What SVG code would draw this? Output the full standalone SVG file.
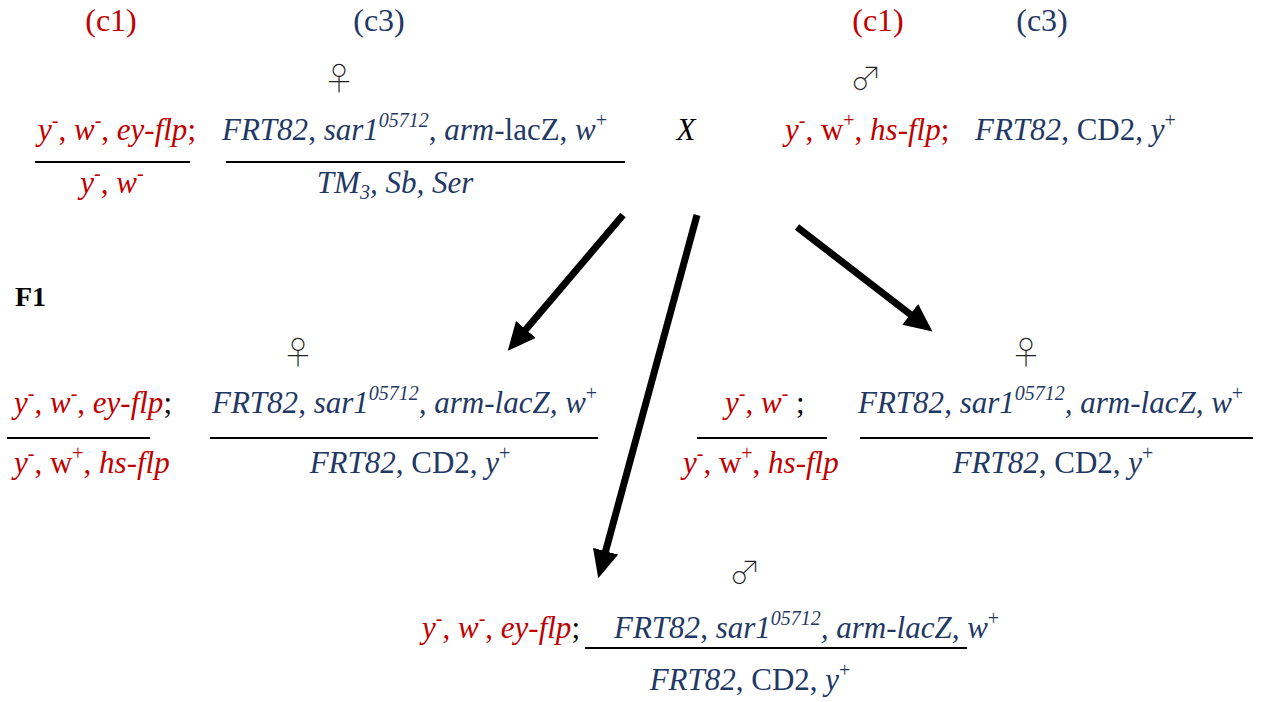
<svg xmlns="http://www.w3.org/2000/svg" width="1268" height="702" viewBox="0 0 1268 702">
<defs>
<style>
text{font-family:"Liberation Serif","Times New Roman",serif;font-size:31px}
.r{fill:#C00000}
.b{fill:#1F3864}
.k{fill:#000}
.i{font-style:italic}
.sup{font-size:20px}
.hd{font-size:32px}
.f1{font-size:28px;font-weight:bold;fill:#000}
text.sym{font-family:"Noto Sans CJK JP",sans-serif;font-weight:100;font-size:32px;fill:#222;text-anchor:middle}
.bar{stroke:#000;stroke-width:2}
.arr{stroke:#000;stroke-width:7;fill:none;marker-end:url(#ah)}
.mid{text-anchor:middle}
</style>
<marker id="ah" markerUnits="userSpaceOnUse" markerWidth="30" markerHeight="26" refX="6" refY="13" orient="auto" viewBox="0 0 30 26"><path d="M0,0 L28,13 L0,26 Z" fill="#000"/></marker>
</defs>
<rect width="1268" height="702" fill="#fff"/>

<g id="headers">
<text x="111" y="31" class="r hd mid">(c1)</text>
<text x="379" y="31" class="b hd mid">(c3)</text>
<text x="878" y="31" class="r hd mid">(c1)</text>
<text x="1042" y="31" class="b hd mid">(c3)</text>
<text x="15" y="306" class="f1">F1</text>
<text x="686" y="140" class="k i mid">X</text>
</g>

<g id="parent-female">
<text x="339" y="90" class="sym">♀</text>
<text x="38" y="140" class="r"><tspan class="i">y</tspan><tspan class="sup" dy="-13">-</tspan><tspan dy="13">, </tspan><tspan class="i">w</tspan><tspan class="sup" dy="-13">-</tspan><tspan dy="13">, </tspan><tspan class="i">ey-flp</tspan>;</text>
<line x1="35" y1="162" x2="190" y2="162" class="bar"/>
<text x="112" y="193" class="r mid"><tspan class="i">y</tspan><tspan class="sup" dy="-13">-</tspan><tspan dy="13">, </tspan><tspan class="i">w</tspan><tspan class="sup" dy="-13">-</tspan></text>
<text x="222" y="140" class="b"><tspan class="i">FRT82</tspan>, <tspan class="i">sar1</tspan><tspan class="i sup" dy="-13">05712</tspan><tspan dy="13">, </tspan><tspan class="i">arm</tspan>-lacZ, <tspan class="i">w</tspan><tspan class="sup" dy="-13">+</tspan></text>
<line x1="226" y1="162" x2="625" y2="162" class="bar"/>
<text x="395" y="193" class="b i mid">TM<tspan class="sup" dy="6">3</tspan><tspan dy="-6">, Sb, Ser</tspan></text>
</g>

<g id="parent-male">
<text x="866" y="90" class="sym">♂</text>
<text x="785" y="140" class="r"><tspan class="i">y</tspan><tspan class="sup" dy="-13">-</tspan><tspan dy="13">, w</tspan><tspan class="sup" dy="-13">+</tspan><tspan dy="13">, </tspan><tspan class="i">hs-flp</tspan>;</text>
<text x="975" y="140" class="b"><tspan class="i">FRT82</tspan>, CD2, <tspan class="i">y</tspan><tspan class="sup" dy="-13">+</tspan></text>
</g>

<g id="f1-female-left">
<text x="298" y="364" class="sym">♀</text>
<text x="14" y="413" class="r"><tspan class="i">y</tspan><tspan class="sup" dy="-13">-</tspan><tspan dy="13">, </tspan><tspan class="i">w</tspan><tspan class="sup" dy="-13">-</tspan><tspan dy="13">, </tspan><tspan class="i">ey-flp</tspan><tspan class="k">;</tspan></text>
<line x1="7" y1="438" x2="150" y2="438" class="bar"/>
<text x="14" y="473" class="r"><tspan class="i">y</tspan><tspan class="sup" dy="-13">-</tspan><tspan dy="13">, w</tspan><tspan class="sup" dy="-13">+</tspan><tspan dy="13">, </tspan><tspan class="i">hs-flp</tspan></text>
<text x="212" y="413" class="b"><tspan class="i">FRT82</tspan>, <tspan class="i">sar1</tspan><tspan class="i sup" dy="-13">05712</tspan><tspan class="i" dy="13">, arm-lacZ, w</tspan><tspan class="sup" dy="-13">+</tspan></text>
<line x1="210" y1="438" x2="598" y2="438" class="bar"/>
<text x="410" y="473" class="b mid"><tspan class="i">FRT82</tspan>, CD2, <tspan class="i">y</tspan><tspan class="sup" dy="-13">+</tspan></text>
</g>

<g id="f1-female-right">
<text x="1026" y="364" class="sym">♀</text>
<text x="725" y="413" class="r"><tspan class="i">y</tspan><tspan class="sup" dy="-13">-</tspan><tspan dy="13">, </tspan><tspan class="i">w</tspan><tspan class="sup" dy="-13">-</tspan><tspan class="k" dy="13"> ;</tspan></text>
<line x1="697" y1="438" x2="827" y2="438" class="bar"/>
<text x="683" y="473" class="r"><tspan class="i">y</tspan><tspan class="sup" dy="-13">-</tspan><tspan dy="13">, w</tspan><tspan class="sup" dy="-13">+</tspan><tspan dy="13">, </tspan><tspan class="i">hs-flp</tspan></text>
<text x="858" y="413" class="b"><tspan class="i">FRT82</tspan>, <tspan class="i">sar1</tspan><tspan class="i sup" dy="-13">05712</tspan><tspan class="i" dy="13">, arm-lacZ, w</tspan><tspan class="sup" dy="-13">+</tspan></text>
<line x1="860" y1="438" x2="1253" y2="438" class="bar"/>
<text x="1053" y="473" class="b mid"><tspan class="i">FRT82</tspan>, CD2, <tspan class="i">y</tspan><tspan class="sup" dy="-13">+</tspan></text>
</g>

<g id="f1-male">
<text x="745" y="584" class="sym">♂</text>
<text x="422" y="638" class="r"><tspan class="i">y</tspan><tspan class="sup" dy="-13">-</tspan><tspan dy="13">, </tspan><tspan class="i">w</tspan><tspan class="sup" dy="-13">-</tspan><tspan dy="13">, </tspan><tspan class="i">ey-flp</tspan><tspan class="k">;</tspan></text>
<text x="614" y="638" class="b"><tspan class="i">FRT82</tspan>, <tspan class="i">sar1</tspan><tspan class="i sup" dy="-13">05712</tspan><tspan class="i" dy="13">, arm-lacZ, </tspan><tspan class="i">w</tspan><tspan class="sup" dy="-13">+</tspan></text>
<line x1="585" y1="648" x2="967" y2="648" class="bar" stroke-width="2.5"/>
<text x="750" y="690" class="b mid"><tspan class="i">FRT82</tspan>, CD2, <tspan class="i">y</tspan><tspan class="sup" dy="-13">+</tspan></text>
</g>

<g id="connectors">
<line x1="623" y1="215" x2="522" y2="334" class="arr"/>
<line x1="697" y1="215" x2="604" y2="557" class="arr"/>
<line x1="797" y1="227" x2="915" y2="318" class="arr"/>
</g>
</svg>
